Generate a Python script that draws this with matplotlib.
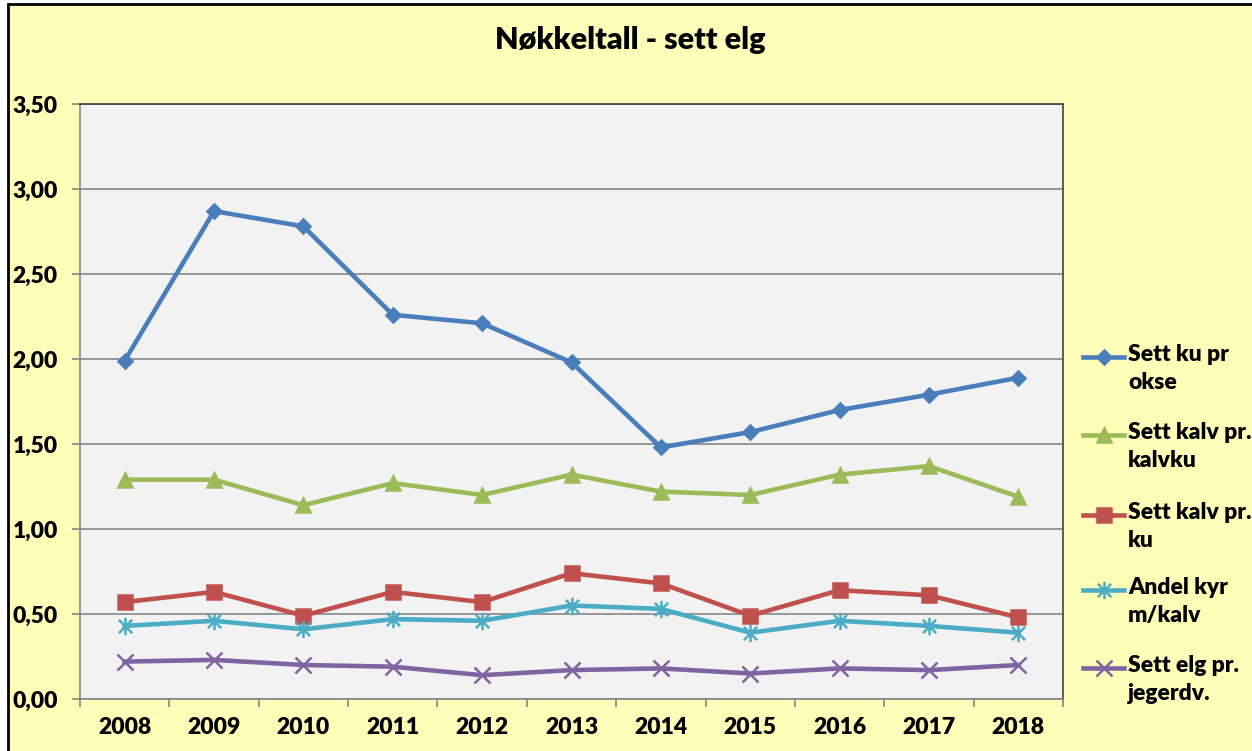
import numpy as np
import matplotlib.pyplot as plt
from matplotlib.lines import Line2D
from matplotlib.patches import Rectangle
from matplotlib.path import Path

# Data
years = ['2008', '2009', '2010', '2011', '2012', '2013', '2014', '2015', '2016', '2017', '2018']
ku_pr_okse = [1.99, 2.87, 2.78, 2.26, 2.21, 1.98, 1.48, 1.57, 1.70, 1.79, 1.89]
kalv_pr_kalvku = [1.29, 1.29, 1.14, 1.27, 1.20, 1.32, 1.22, 1.20, 1.32, 1.37, 1.19]
kalv_pr_ku = [0.57, 0.63, 0.49, 0.63, 0.57, 0.74, 0.68, 0.49, 0.64, 0.61, 0.48]
andel_kyr_kalv = [0.43, 0.46, 0.41, 0.47, 0.46, 0.55, 0.53, 0.39, 0.46, 0.43, 0.39]
elg_pr_jegerdv = [0.22, 0.23, 0.20, 0.19, 0.14, 0.17, 0.18, 0.15, 0.18, 0.17, 0.20]

labels = ['Sett ku pr\nokse', 'Sett kalv pr.\nkalvku', 'Sett kalv pr.\nku',
          'Andel kyr\nm/kalv', 'Sett elg pr.\njegerdv.']

plt.rcParams['font.family'] = ['Lato', 'DejaVu Sans']
WEIGHT = 'heavy'
FS = 16.5

W, H = 1252, 751
fig = plt.figure(figsize=(W / 100, H / 100), dpi=100, facecolor='white')

# gul bakgrunn med svart ramme
bg = Rectangle((8 / W, -0.1), 1.2, (H - 4) / H + 0.1, transform=fig.transFigure,
               facecolor='#FFFDB8', edgecolor='black', linewidth=2, zorder=0)
fig.add_artist(bg)

ax = fig.add_axes([80 / W, 1 - 699 / H, (1063 - 80) / W, (699 - 104) / H])
ax.set_facecolor('#F2F2F2')

# stjerne-markør (asterisk)
star = Path([(-1, -1), (1, 1), (-1, 1), (1, -1), (0, -1.3), (0, 1.3)],
            [Path.MOVETO, Path.LINETO, Path.MOVETO, Path.LINETO, Path.MOVETO, Path.LINETO])

series = [
    (ku_pr_okse, '#4A7EBB', 'D', 7.5),
    (kalv_pr_kalvku, '#9BBB59', '^', 10),
    (kalv_pr_ku, '#C0504D', 's', 10),
    (andel_kyr_kalv, '#4BACC6', star, 12.5),
    (elg_pr_jegerdv, '#8064A2', 'x', 11),
]

x = np.arange(len(years))
for vals, col, mk, ms in series:
    ax.plot(x, vals, color=col, lw=3.3, marker=mk, markersize=ms,
            markerfacecolor=col, markeredgecolor=col, markeredgewidth=1.8, zorder=3)

ax.set_xlim(-0.5, len(years) - 0.5)
ax.set_ylim(0, 3.5)
yt = np.arange(0, 3.51, 0.5)
ax.set_yticks(yt)
ax.set_yticklabels([f'{v:.2f}'.replace('.', ',') for v in yt], fontweight=WEIGHT)
ax.set_xticks(x)
ax.set_xticklabels(years, fontweight=WEIGHT)
ax.set_xticks(np.arange(-0.5, len(years), 1), minor=True)
ax.tick_params(axis='x', which='major', length=0, pad=13, labelsize=FS)
ax.tick_params(axis='x', which='minor', length=6, color='#868686', width=1.2)
ax.tick_params(axis='y', length=6, color='#868686', width=1.2, pad=10, labelsize=FS)
ax.grid(axis='y', color='#868686', lw=1.2)
ax.set_axisbelow(True)
for s in ['left', 'bottom']:
    ax.spines[s].set_color('#868686')
    ax.spines[s].set_linewidth(1.2)
for s in ['top', 'right']:
    ax.spines[s].set_color('#404040')
    ax.spines[s].set_linewidth(1.2)

fig.text(630 / W, 1 - 40 / H, 'Nøkkeltall - sett elg', ha='center', va='center',
         fontsize=22, fontweight=WEIGHT)

# forklaring
leg_y = [357, 435, 515, 590, 668]
for (vals, col, mk, ms), lab, yy in zip(series, labels, leg_y):
    fy = 1 - yy / H
    fig.add_artist(Line2D([1083 / W, 1124 / W], [fy, fy], transform=fig.transFigure,
                          color=col, lw=3.3))
    fig.add_artist(Line2D([1104 / W], [fy], transform=fig.transFigure, color=col,
                          marker=mk, markersize=ms, markerfacecolor=col,
                          markeredgecolor=col, markeredgewidth=1.8))
    fig.text(1128 / W, 1 - (yy - 13) / H, lab, ha='left', va='top', fontsize=FS,
             fontweight=WEIGHT, linespacing=1.4)

fig.savefig('out.png', dpi=100, facecolor=fig.get_facecolor())
